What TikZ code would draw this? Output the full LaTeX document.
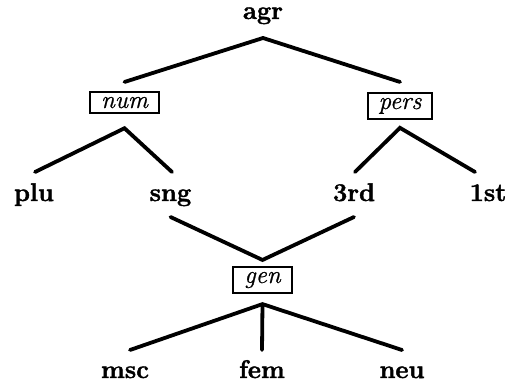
\documentclass[tikz,border=0pt]{standalone}
\usepackage{fontspec}
\setmainfont{Latin Modern Roman}[BoldFeatures={FakeBold=1.6},ItalicFeatures={FakeBold=0.8}]
\begin{document}
\begin{tikzpicture}[x=1pt,y=-1pt,
  lbl/.style={font=\fontsize{25.5}{30}\selectfont\bfseries, inner sep=0pt, anchor=base},
  feat/.style={draw, line width=2pt, font=\fontsize{25}{30}\selectfont\itshape, inner xsep=11pt, inner ysep=5pt, anchor=base},
  edge/.style={line width=3.8pt, line cap=round}]
\useasboundingbox (0,0) rectangle (512,387);
\node[lbl, text height=12pt, text depth=5pt] (agr) at (263,19) {agr};
\node[feat] (num) at (124.5,108) {num};
\node[feat] (pers) at (400,109) {pers};
\node[lbl] (plu) at (34,201) {plu};
\node[lbl] (sng) at (170.5,201) {sng};
\node[lbl] (third) at (354,201) {3rd};
\node[lbl] (first) at (488,201) {1st};
\node[feat] (gen) at (262.5,283) {gen};
\node[lbl] (msc) at (125,378) {msc};
\node[lbl] (fem) at (262,378) {fem};
\node[lbl] (neu) at (402,378) {neu};
\coordinate (agrfoot) at ([yshift=-19pt]agr.base);
\coordinate (numfoot) at ([yshift=-14pt]num.south);
\coordinate (persfoot) at ([yshift=-8pt]pers.south);
\coordinate (gentop) at ([yshift=6pt]gen.north);
\coordinate (genfoot) at ([yshift=-10pt]gen.south);
\draw[edge] ([yshift=9pt]num.north) -- (agrfoot) -- ([yshift=10pt]pers.north);
\draw[edge] ([shift={(1pt,29pt)}]plu.base) -- (numfoot) -- ([shift={(1.5pt,29pt)}]sng.base);
\draw[edge] ([shift={(1pt,29pt)}]third.base) -- (persfoot) -- ([shift={(-13pt,29pt)}]first.base);
\draw[edge] ([yshift=-16pt]sng.base) -- (gentop) -- ([yshift=-16pt]third.base);
\draw[edge] (genfoot) -- ([shift={(5pt,28pt)}]msc.base);
\draw[edge] (genfoot) -- ([yshift=28pt]fem.base);
\draw[edge] (genfoot) -- ([yshift=28pt]neu.base);
\end{tikzpicture}
\end{document}
